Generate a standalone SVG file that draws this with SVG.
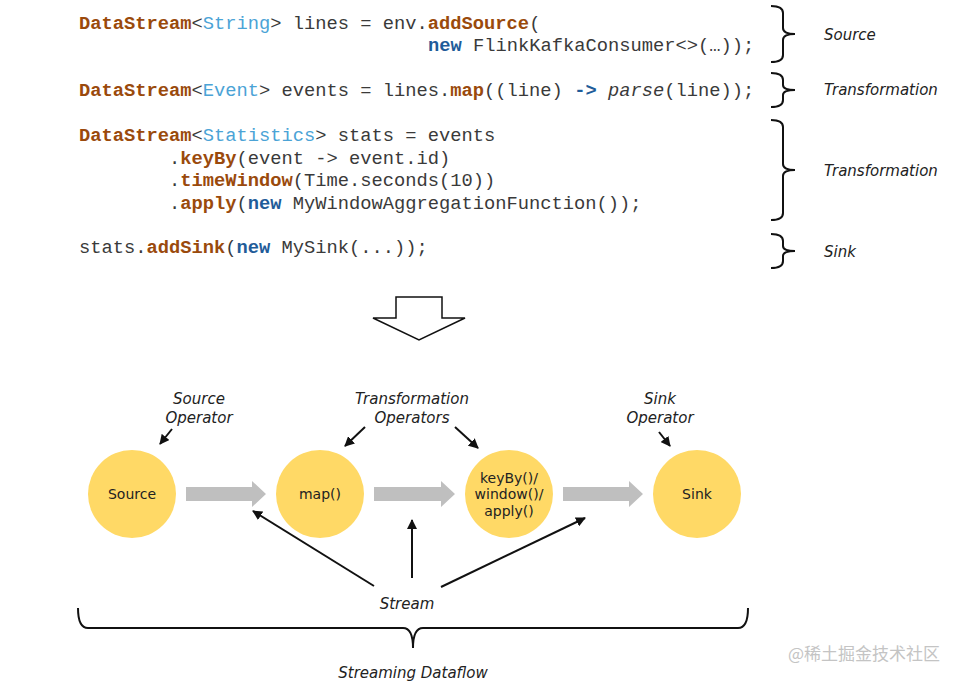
<svg xmlns="http://www.w3.org/2000/svg" width="964" height="685" viewBox="0 0 964 685">
<style>
.code{font-family:"Liberation Mono","Courier New",monospace;font-size:18.75px;fill:#3a3a3a}
.k{fill:#9a4a0c;font-weight:bold}
.t{fill:#4ba3d6}
.n{fill:#1f5c99;font-weight:bold}
.i{font-style:italic}
.lbl{font-family:"DejaVu Sans",Verdana,sans-serif;font-size:15px;font-style:italic;fill:#222}
.nt{font-family:"DejaVu Sans",Verdana,sans-serif;font-size:14px;fill:#222;text-anchor:middle}
.brace{fill:none;stroke:#111;stroke-width:2}
.node{fill:#ffd966}
.flow{fill:#bfbfbf}
.conn{stroke:#111;stroke-width:2;fill:none;marker-end:url(#ah)}
</style>
<defs>
<marker id="ah" viewBox="0 0 10 10" refX="9" refY="5" markerWidth="5" markerHeight="5" orient="auto" markerUnits="strokeWidth">
<path d="M0,0 L10,5 L0,10 z" fill="#111"/>
</marker>
</defs>
<rect width="964" height="685" fill="#fff"/>
<g id="code">
<text class="code" x="79" y="29" xml:space="preserve"><tspan class="k">DataStream</tspan>&lt;<tspan class="t">String</tspan>&gt; lines = env.<tspan class="k">addSource</tspan>(</text>
<text class="code" x="428" y="51" xml:space="preserve"><tspan class="n">new</tspan> FlinkKafkaConsumer&lt;&gt;(…));</text>
<text class="code" x="79" y="96" xml:space="preserve"><tspan class="k">DataStream</tspan>&lt;<tspan class="t">Event</tspan>&gt; events = lines.<tspan class="k">map</tspan>((line) <tspan class="n">-&gt;</tspan> <tspan class="i">parse</tspan>(line));</text>
<text class="code" x="79" y="141" xml:space="preserve"><tspan class="k">DataStream</tspan>&lt;<tspan class="t">Statistics</tspan>&gt; stats = events</text>
<text class="code" x="169" y="164" xml:space="preserve">.<tspan class="k">keyBy</tspan>(event -&gt; event.id)</text>
<text class="code" x="169" y="186" xml:space="preserve">.<tspan class="k">timeWindow</tspan>(Time.seconds(10))</text>
<text class="code" x="169" y="209" xml:space="preserve">.<tspan class="k">apply</tspan>(<tspan class="n">new</tspan> MyWindowAggregationFunction());</text>
<text class="code" x="79" y="253" xml:space="preserve">stats.<tspan class="k">addSink</tspan>(<tspan class="n">new</tspan> MySink(...));</text>
</g>
<g id="code-braces">
<path class="brace" d="M771,6 Q783,6 783,13 L783,28 Q783,34 795,34 Q783,34 783,40 L783,55 Q783,62 771,62"/>
<path class="brace" d="M771,73 Q783,73 783,80 L783,85 Q783,90 795,90 Q783,90 783,95 L783,100 Q783,107 771,107"/>
<path class="brace" d="M771,120 Q783,120 783,127 L783,164 Q783,170 795,170 Q783,170 783,176 L783,213 Q783,220 771,220"/>
<path class="brace" d="M771,234 Q783,234 783,241 L783,246 Q783,251 795,251 Q783,251 783,256 L783,261 Q783,268 771,268"/>
<text class="lbl" x="824" y="40">Source</text>
<text class="lbl" x="824" y="95">Transformation</text>
<text class="lbl" x="824" y="176">Transformation</text>
<text class="lbl" x="824" y="257">Sink</text>
</g>
<g id="down-arrow">
<path d="M396,297 L442,297 L442,318 L465,318 L419,340 L373,318 L396,318 Z" fill="#fff" stroke="#111" stroke-width="1.5" stroke-linejoin="miter"/>
</g>
<g id="op-labels">
<text class="lbl" text-anchor="middle" x="199" y="404">Source</text>
<text class="lbl" text-anchor="middle" x="199" y="423">Operator</text>
<text class="lbl" text-anchor="middle" x="412" y="404">Transformation</text>
<text class="lbl" text-anchor="middle" x="412" y="423">Operators</text>
<text class="lbl" text-anchor="middle" x="660" y="404">Sink</text>
<text class="lbl" text-anchor="middle" x="660" y="423">Operator</text>
</g>
<g id="node-source"><circle class="node" cx="132" cy="494" r="44"/><text class="nt" x="132" y="499">Source</text></g>
<g id="node-map"><circle class="node" cx="320" cy="494" r="44"/><text class="nt" x="320" y="499">map()</text></g>
<g id="node-window"><circle class="node" cx="509" cy="494" r="44"/><text class="nt" x="509" y="483">keyBy()/</text><text class="nt" x="509" y="499">window()/</text><text class="nt" x="509" y="516">apply()</text></g>
<g id="node-sink"><circle class="node" cx="697" cy="494" r="44"/><text class="nt" x="697" y="499">Sink</text></g>
<g id="connectors">
<path class="flow" d="M186,487 L252,487 L252,481 L266,494 L252,507 L252,501 L186,501 Z"/>
<path class="flow" d="M374,487 L441,487 L441,481 L455,494 L441,507 L441,501 L374,501 Z"/>
<path class="flow" d="M563,487 L629,487 L629,481 L643,494 L629,507 L629,501 L563,501 Z"/>
<line class="conn" x1="172" y1="429" x2="160" y2="444"/>
<line class="conn" x1="365" y1="427" x2="345" y2="446"/>
<line class="conn" x1="455" y1="427" x2="478" y2="448"/>
<line class="conn" x1="659" y1="432" x2="670" y2="446"/>
<line class="conn" x1="374" y1="586" x2="253" y2="511"/>
<line class="conn" x1="412" y1="578" x2="412" y2="520"/>
<line class="conn" x1="441" y1="587" x2="585" y2="518"/>
</g>
<g id="dataflow">
<text class="lbl" text-anchor="middle" x="407" y="609">Stream</text>
<path class="brace" d="M78,608 Q78,628 88,628 L403,628 Q413,628 413,648 Q413,628 423,628 L738,628 Q748,628 748,608"/>
<text class="lbl" text-anchor="middle" x="413" y="678">Streaming Dataflow</text>
</g>
<text x="864" y="660" text-anchor="middle" font-family="'Noto Sans CJK SC',sans-serif" font-size="17" fill="#c4c4c4">@稀土掘金技术社区</text>
</svg>
